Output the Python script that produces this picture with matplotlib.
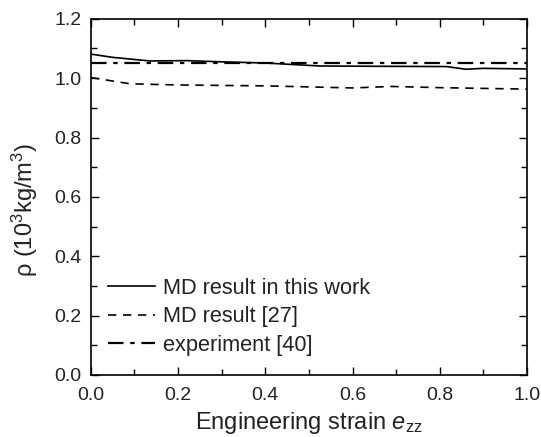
import matplotlib
matplotlib.use('Agg')
from matplotlib import pyplot as plt
from matplotlib.ticker import MultipleLocator

plt.rcParams['font.family'] = ['Liberation Sans', 'DejaVu Sans']
plt.rcParams['mathtext.fontset'] = 'custom'
plt.rcParams['mathtext.rm'] = 'Liberation Sans'
plt.rcParams['mathtext.it'] = 'Liberation Sans:italic'

# solid: MD result in this work
strain_md = [0.0, 0.05, 0.135, 0.22, 0.30, 0.40, 0.525, 0.65, 0.816, 0.86, 0.90, 1.0]
rho_md = [1.081, 1.07, 1.058, 1.059, 1.055, 1.051, 1.041, 1.040, 1.039, 1.030, 1.033, 1.031]

# dashed: MD result [27]
strain_ref = [0.0, 0.09, 0.20, 0.40, 0.60, 0.69, 0.80, 1.0]
rho_ref = [1.002, 0.981, 0.977, 0.974, 0.967, 0.972, 0.968, 0.963]

# dash-dot: experiment [40]
strain_exp = [0.0, 1.0]
rho_exp = [1.05, 1.05]

fig, ax = plt.subplots(figsize=(5.41, 4.37), dpi=100)
fig.subplots_adjust(left=0.168, right=0.974, top=0.957, bottom=0.142)

ax.plot(strain_md, rho_md, color='black', linewidth=1.2, linestyle='-', label='MD result in this work')
ax.plot(strain_ref, rho_ref, color='black', linewidth=1.2, linestyle=(0, (5, 4)), label='MD result [27]')
ax.plot(strain_exp, rho_exp, color='black', linewidth=1.6, linestyle=(0, (7, 3, 2, 3)), label='experiment [40]')

ax.set_xlim(0, 1.0)
ax.set_ylim(0, 1.2)
ax.xaxis.set_major_locator(MultipleLocator(0.2))
ax.xaxis.set_minor_locator(MultipleLocator(0.1))
ax.yaxis.set_major_locator(MultipleLocator(0.2))
ax.yaxis.set_minor_locator(MultipleLocator(0.1))
ax.xaxis.set_major_formatter(plt.FormatStrFormatter('%.1f'))
ax.yaxis.set_major_formatter(plt.FormatStrFormatter('%.1f'))
ax.tick_params(which='both', direction='in', top=True, right=True, labelsize=14,
               labelcolor='#222222')
ax.tick_params(axis='x', pad=9)
ax.tick_params(axis='y', pad=6.5)
ax.tick_params(which='major', length=6, width=1)
ax.tick_params(which='minor', length=4, width=1)
for s in ax.spines.values():
    s.set_linewidth(1.2)

ax.set_xlabel('Engineering strain $e_{\\rm zz}$', fontsize=17, labelpad=4, color='#222222')
ax.set_ylabel('ρ (10$^3$kg/m$^3$)', fontsize=17, color='#222222')
ax.yaxis.set_label_coords(-0.117, 0.463)

leg = ax.legend(loc='center left', frameon=False, fontsize=15.7, handlelength=2.15,
                handletextpad=0.36, labelspacing=0.35, borderpad=0, borderaxespad=0,
                bbox_to_anchor=(0.039, 0.163))
for t in leg.get_texts():
    t.set_color('#222222')

plt.savefig('out.png', dpi=100)
